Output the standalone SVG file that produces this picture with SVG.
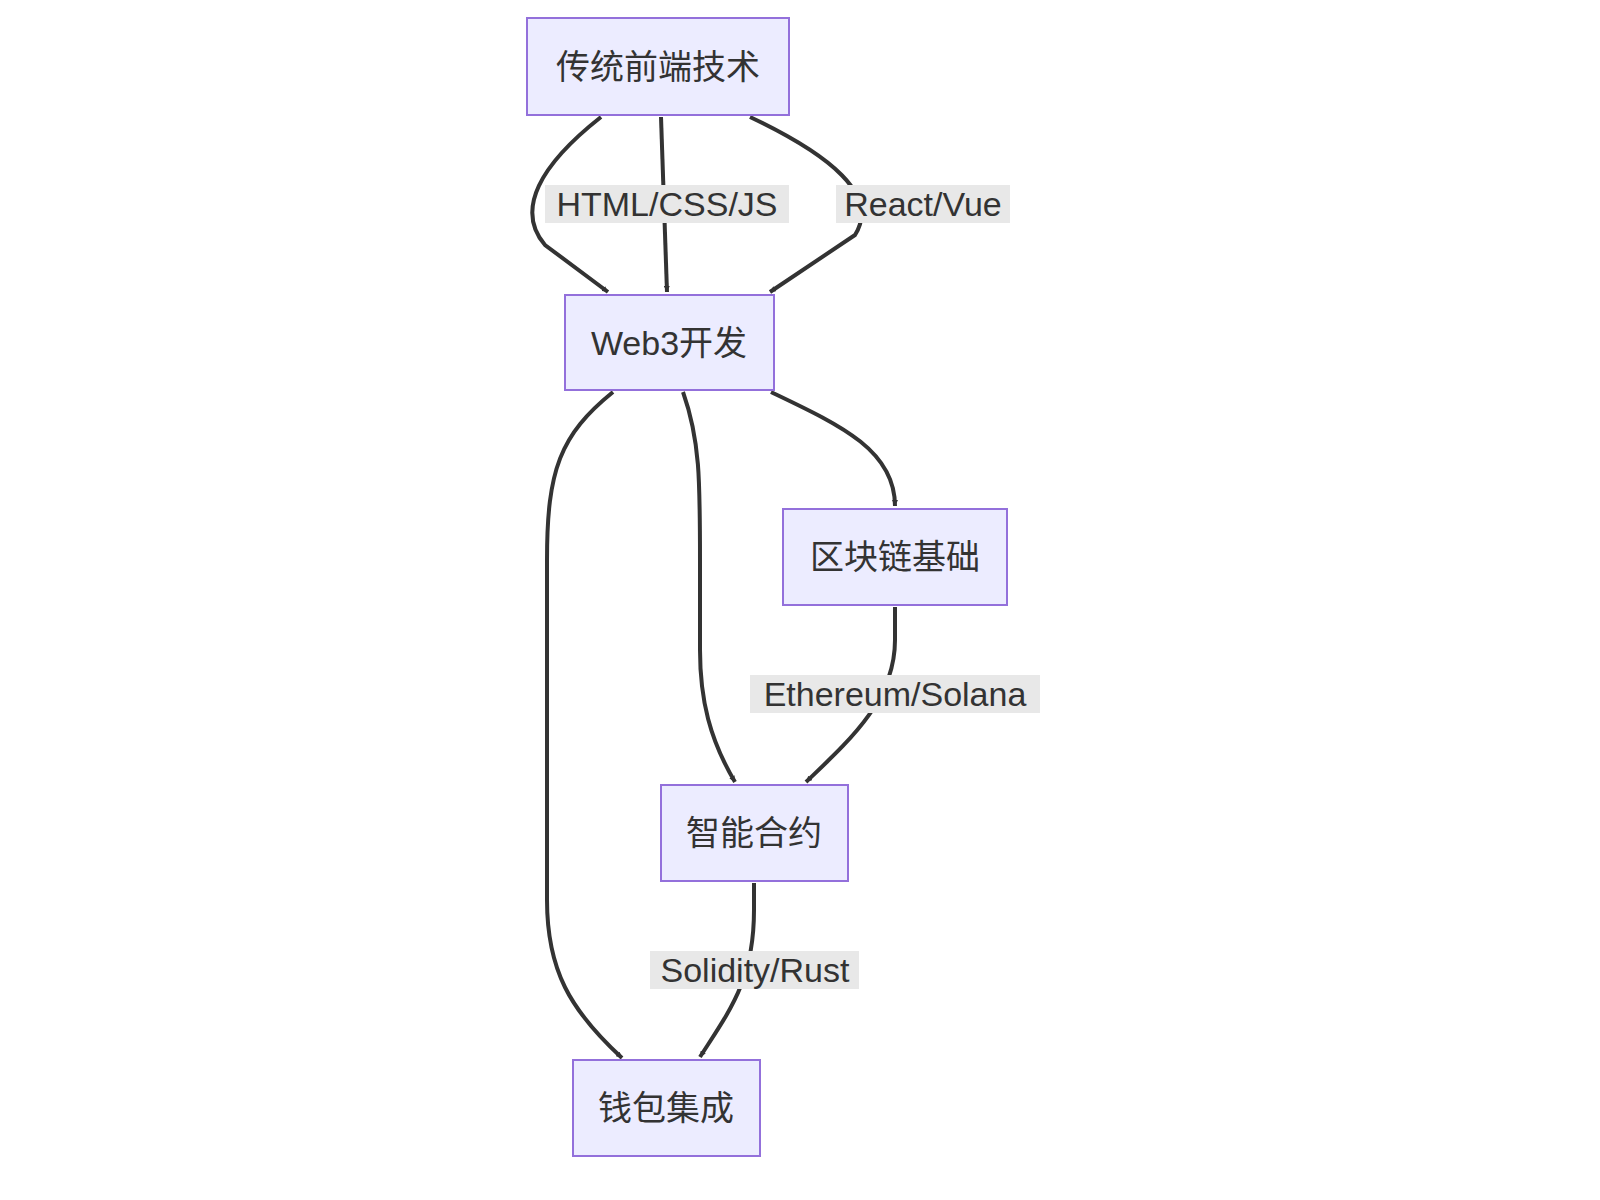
<svg xmlns="http://www.w3.org/2000/svg" width="1600" height="1200" viewBox="0 0 1600 1200">
<style>
.n rect{fill:#ececff;stroke:#9370db;stroke-width:2}
.n text{font-family:"Liberation Sans","Noto Sans CJK SC",sans-serif;font-size:34px;fill:#333;text-anchor:middle;dominant-baseline:central}
.e path{fill:none;stroke:#333;stroke-width:4}
.l rect{fill:#e8e8e8}
.l text{font-family:"Liberation Sans",sans-serif;font-size:34px;fill:#333;text-anchor:middle;dominant-baseline:central}
</style>
<defs><marker id="a" viewBox="0 0 10 10" refX="10" refY="5" markerWidth="6" markerHeight="6" markerUnits="userSpaceOnUse" orient="auto"><path d="M0,0L10,5L0,10z" fill="#333"/></marker></defs>
<rect width="1600" height="1200" fill="#fff"/>
<g class="e">
<path marker-end="url(#a)" transform="" d="M601,117 C540,165 515,210 545,245 L608,292" style="marker-end:url(#a)"/>
<path d="M661,117 L667,292" marker-end="url(#a)"/>
<path d="M750,117 C830,155 880,195 855,235 L770,292" marker-end="url(#a)"/>
<path d="M613,392 C560,435 547,470 547,560 L547,900 C547,970 570,1010 622,1058" marker-end="url(#a)"/>
<path d="M683,392 C700,440 700,480 700,560 L700,650 C700,700 710,740 735,782" marker-end="url(#a)"/>
<path d="M771,392 C840,425 895,450 895,506" marker-end="url(#a)"/>
<path d="M895,607 L895,640 C895,700 850,740 806,782" marker-end="url(#a)"/>
<path d="M754,883 L754,910 C754,980 730,1010 700,1057" marker-end="url(#a)"/>
</g>
<g class="l">
<rect x="545" y="185" width="244" height="38"/><text x="667" y="204">HTML/CSS/JS</text>
<rect x="836" y="185" width="174" height="38"/><text x="923" y="204">React/Vue</text>
<rect x="750" y="675" width="290" height="38"/><text x="895" y="694">Ethereum/Solana</text>
<rect x="650" y="951" width="209" height="38"/><text x="755" y="970">Solidity/Rust</text>
</g>
<g id="n1" class="n"><rect x="527" y="18" width="262" height="97"/><text x="658" y="67">传统前端技术</text></g>
<g id="n2" class="n"><rect x="565" y="295" width="209" height="95"/><text x="669" y="343">Web3开发</text></g>
<g id="n3" class="n"><rect x="783" y="509" width="224" height="96"/><text x="895" y="557">区块链基础</text></g>
<g id="n4" class="n"><rect x="661" y="785" width="187" height="96"/><text x="754" y="833">智能合约</text></g>
<g id="n5" class="n"><rect x="573" y="1060" width="187" height="96"/><text x="666" y="1108">钱包集成</text></g>
</svg>
